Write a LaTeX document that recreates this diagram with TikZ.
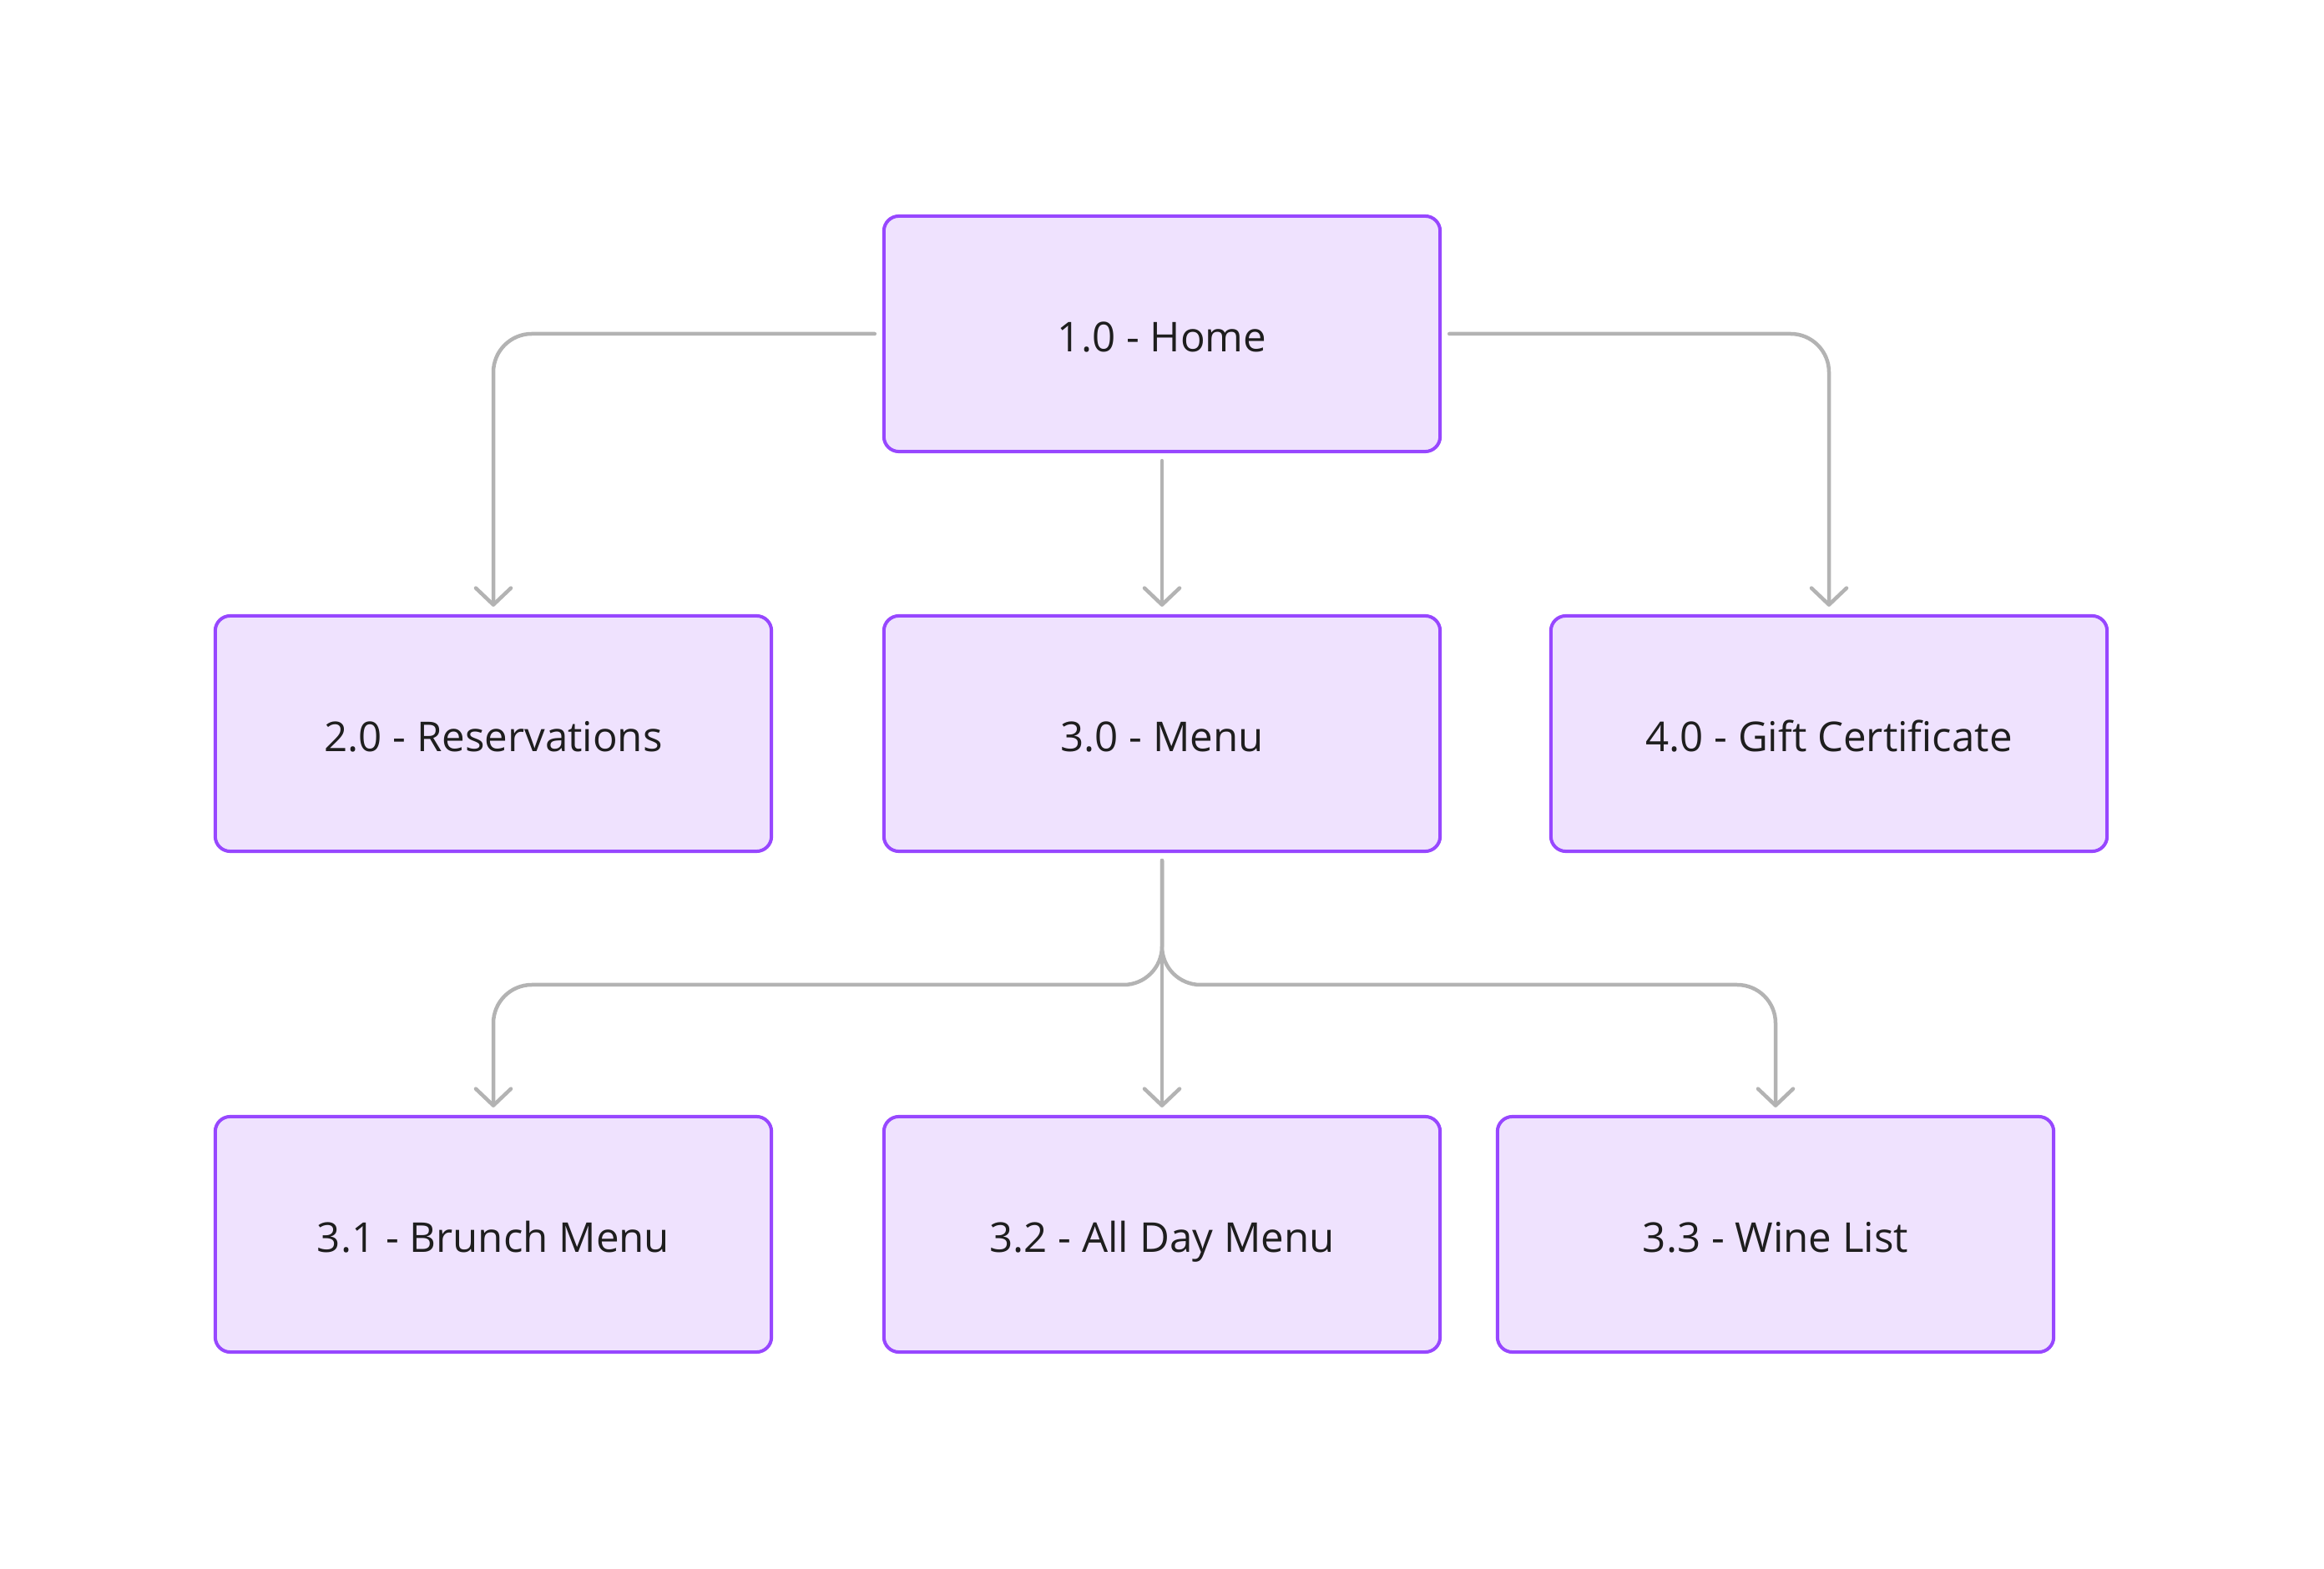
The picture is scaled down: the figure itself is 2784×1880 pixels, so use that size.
\documentclass[tikz,border=0pt]{standalone}
\usepackage{fontspec}
\setmainfont{Open Sans}
\usetikzlibrary{arrows.meta}
\definecolor{ink}       {HTML}{1E1E1E}
\definecolor{pagepurple}{HTML}{9747FF}
\definecolor{pagefill}  {HTML}{EFE2FE}
\definecolor{linkgrey}  {HTML}{B3B3B3}

\begin{document}
\begin{tikzpicture}[x=0.01cm,y=0.01cm,font=\fontsize{14}{16}\selectfont,
    page/.style={draw=pagepurple,fill=pagefill,line width=0.04cm,rounded corners=0.18cm,
      minimum width=6.66cm,minimum height=2.82cm,inner sep=0pt,text=ink,
      text height=0.43cm,text depth=0pt},
    link/.style={draw=linkgrey,line width=0.045cm,rounded corners=0.46cm,line cap=round,
      shorten <=0.09cm,shorten >=0.09cm,
      -{Straight Barb[length=0.2cm,width=0.42cm,line join=round,line cap=round]}}]
        \useasboundingbox (0,0) rectangle (2784,-1880);

        \node[page] (home) at (1392,-400) {1.0 - Home};
        \foreach \nm/\x/\lab in {res/591/{2.0 - Reservations},menu/1392/{3.0 - Menu},gift/2191/{4.0 - Gift Certificate}} {
          \node[page] (\nm) at (\x,-879) {\lab};
        }
        \foreach \nm/\x/\lab in {brunch/591/{3.1 - Brunch Menu},allday/1392/{3.2 - All Day Menu},wine/2127/{3.3 - Wine List}} {
          \node[page] (\nm) at (\x,-1479) {\lab};
        }

        % links from home
        \draw[link] (home.west) -| (res.north);
        \draw[link] (home.south) -- (menu.north);
        \draw[link] (home.east) -| (gift.north);

        % menu fans out below
        \coordinate (split) at (1392,-1180);
        \draw[link] (menu.south) -- (split) -| (brunch.north);
        \draw[link] (menu.south) -- (allday.north);
        \draw[link] (menu.south) -- (split) -| (wine.north);
      \end{tikzpicture}
\end{document}
